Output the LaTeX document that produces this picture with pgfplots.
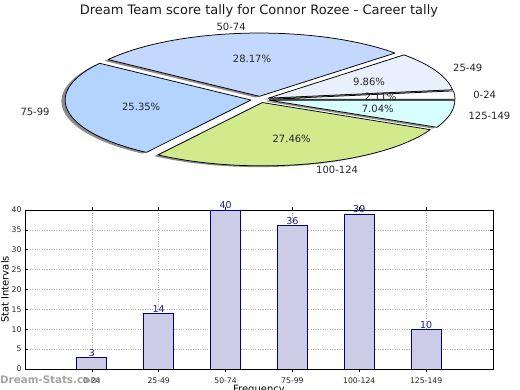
\documentclass[border=0pt]{standalone}
\usepackage{pgfplots}
\pgfplotsset{compat=1.18}
\usepackage{fontspec}
\setmainfont{DejaVu Sans}
\definecolor{cA}{HTML}{FFFFFF}
\definecolor{cB}{HTML}{E8F0FE}
\definecolor{cC}{HTML}{C4D8FE}
\definecolor{cD}{HTML}{B3D4FE}
\definecolor{cE}{HTML}{D0EA8C}
\definecolor{cF}{HTML}{D8FFFF}
\definecolor{barfill}{HTML}{CCCCE6}
\definecolor{baredge}{HTML}{000080}
\definecolor{vallab}{RGB}{30,30,140}
\newcommand\piefont{\fontsize{10}{12}\selectfont}
% counts: 3,14,40,36,39,10 (total 142)
\newcommand\total{142}
\newcommand\sliceangles[2]{%
  \pgfmathsetmacro\unit{360/\total}%
  \pgfmathsetmacro\aS{#1*\unit}%
  \pgfmathsetmacro\aE{(#1+#2)*\unit}%
  \pgfmathsetmacro\aM{(\aS+\aE)/2}%
  \pgfmathsetmacro\dx{0.05*cos(\aM)}%
  \pgfmathsetmacro\dy{0.05*sin(\aM)}%
}
\newcommand\pieshadow[2]{%
  \sliceangles{#1}{#2}%
  \pgfmathsetmacro\sx{\dx-0.02}%
  \pgfmathsetmacro\sy{\dy-0.02}%
  \edef\doit{\noexpand\addplot[draw=none, fill=black, fill opacity=0.45, domain=\aS:\aE, samples=60] ({\sx+cos(x)},{\sy+sin(x)}) -- (axis cs:\sx,\sy) -- cycle;}%
  \doit
}
\newcommand\pieslice[3]{%
  \sliceangles{#1}{#2}%
  \edef\doit{\noexpand\addplot[draw=black, line width=0.75pt, line join=round, fill=#3, domain=\aS:\aE, samples=60] ({\dx+cos(x)},{\dy+sin(x)}) -- (axis cs:\dx,\dy) -- cycle;}%
  \doit
}
\newcommand\pielabel[4]{%
  \sliceangles{#1}{#2}%
  \pgfmathsetmacro\lx{\dx+1.1*cos(\aM)}%
  \pgfmathsetmacro\ly{\dy+1.1*sin(\aM)}%
  \pgfmathsetmacro\px{\dx+0.6*cos(\aM)}%
  \pgfmathsetmacro\py{\dy+0.6*sin(\aM)}%
  \ifdim\lx pt>0pt \def\anc{west}\else\def\anc{east}\fi
  \edef\doit{\noexpand\node[anchor=\anc, inner sep=0pt, font=\noexpand\piefont, text=black!85] at (axis cs:\lx,\ly) {\unexpanded{#3}};
    \noexpand\node[inner sep=0pt, font=\noexpand\piefont, text=black!85] at (axis cs:\px,\py) {\unexpanded{#4}};}%
  \doit
}
\begin{document}
\begin{tikzpicture}
\useasboundingbox (0pt,0pt) rectangle (520pt,390pt);
\node[font=\fontsize{13}{15}\selectfont, anchor=base, text=black!90] at (259pt,375pt) {Dream Team score tally for Connor Rozee - Career tally};
% ---------- pie ----------
\begin{axis}[at={(260pt,290.5pt)}, anchor=center, scale only axis,
  width=520pt, height=177.24pt, xmin=-1.4, xmax=1.4, ymin=-1.4, ymax=1.4,
  hide axis, clip=false]
\pieshadow{0}{3}
\pieshadow{3}{14}
\pieshadow{17}{40}
\pieshadow{57}{36}
\pieshadow{93}{39}
\pieshadow{132}{10}
\pieslice{0}{3}{cA}
\pieslice{3}{14}{cB}
\pieslice{17}{40}{cC}
\pieslice{57}{36}{cD}
\pieslice{93}{39}{cE}
\pieslice{132}{10}{cF}
\pielabel{0}{3}{0-24}{2.11\%}
\pielabel{3}{14}{25-49}{9.86\%}
\pielabel{17}{40}{50-74}{28.17\%}
\pielabel{57}{36}{75-99}{25.35\%}
\pielabel{93}{39}{100-124}{27.46\%}
\pielabel{132}{10}{125-149}{7.04\%}
\end{axis}
% ---------- bars ----------
\begin{axis}[at={(25pt,21pt)}, anchor=south west, scale only axis,
  width=468pt, height=159pt,
  xmin=-1, xmax=6, ymin=0, ymax=40,
  xtick={0,1,2,3,4,5},
  xticklabels={0-24,25-49,50-74,75-99,100-124,125-149},
  ytick={0,5,10,15,20,25,30,35,40},
  /pgf/number format/assume math mode=true,
  tick label style={font=\fontsize{7.7}{9}\selectfont, text=black!85},
  xticklabel style={yshift=-2pt},
  tick align=inside, major tick length=3pt,
  major tick style={black, line width=0.5pt},
  grid=major, grid style={dotted, gray!60, line width=0.7pt},
  axis line style={black, line width=0.9pt},
  ylabel={Stat Intervals}, xlabel={Frequency},
  label style={font=\fontsize{9.7}{11}\selectfont, text=black!90},
  every axis y label/.style={at={(axis description cs:0,0.5)}, rotate=90, anchor=center, yshift=20pt},
  every axis x label/.style={at={(axis description cs:0.5,0)}, anchor=center, yshift=-21pt},
  ybar, bar width=0.45,
  nodes near coords,
  every node near coord/.append style={font=\fontsize{9.5}{11}\selectfont, text=vallab, anchor=base, inner sep=0pt, yshift=1pt},
]
\addplot[fill=barfill, draw=baredge, line width=0.8pt] coordinates {(0,3) (1,14) (2,40) (3,36) (4,39) (5,10)};
\end{axis}
\node[font=\bfseries\fontsize{10.3}{12}\selectfont, text=gray!85, opacity=0.85, anchor=west, inner sep=0pt] at (0pt,10pt) {Dream-Stats.com};
\end{tikzpicture}
\end{document}
